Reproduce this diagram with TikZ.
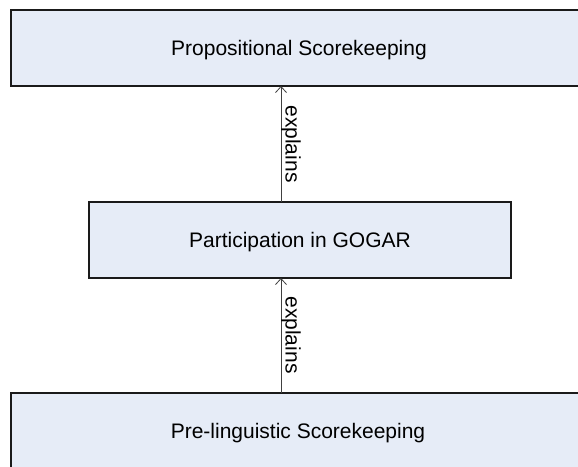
\documentclass[tikz,border=0pt]{standalone}
\usepackage{fontspec}
\setmainfont{Liberation Sans}
\usetikzlibrary{arrows.meta}
\definecolor{boxfill}{HTML}{E6ECF7}
\definecolor{boxline}{HTML}{1A1A1A}
\definecolor{arrowline}{HTML}{404040}
\begin{document}
\begin{tikzpicture}[x=1pt,y=-1pt,
  level/.style={draw=boxline, line width=1.1pt, fill=boxfill, rectangle,
    inner sep=0pt, font=\fontsize{21}{25}\selectfont},
  explainarrow/.style={draw=arrowline, line width=0.9pt,
    -{Straight Barb[length=6pt,width=11pt,line width=0.8pt]}},
  relabel/.style={font=\fontsize{21}{25}\selectfont, rotate=-90, inner sep=0pt}]
  \useasboundingbox (0,0) rectangle (578,466);
  \clip (0,0) rectangle (578,466);
  \fill[white] (0,0) rectangle (578,466);
  % the three levels, stacked top to bottom
  \node[level, minimum width=576pt, minimum height=76pt] (prop) at (299,48) {};
  \node[level, minimum width=422pt, minimum height=76pt] (gogar) at (300,240) {};
  \node[level, minimum width=576pt, minimum height=76pt] (prel) at (299,431) {};
  \node[font=\fontsize{21}{25}\selectfont] (tprop) at (299,50) {Propositional Scorekeeping};
  \node[font=\fontsize{21}{25}\selectfont] (tgogar) at (300,242) {Participation in GOGAR};
  \node[font=\fontsize{21}{25}\selectfont] (tprel) at (298,433) {Pre-linguistic Scorekeeping};
  % the two "explains" links
  \coordinate (a1) at (281,202);
  \coordinate (b1) at (281,86);
  \coordinate (a2) at (281,393);
  \coordinate (b2) at (281,278);
  \draw[explainarrow] (a1) -- (b1);
  \draw[explainarrow] (a2) -- (b2);
  \node[relabel] (l1) at (291,144) {explains};
  \node[relabel] (l2) at (291,335) {explains};
\end{tikzpicture}
\end{document}
